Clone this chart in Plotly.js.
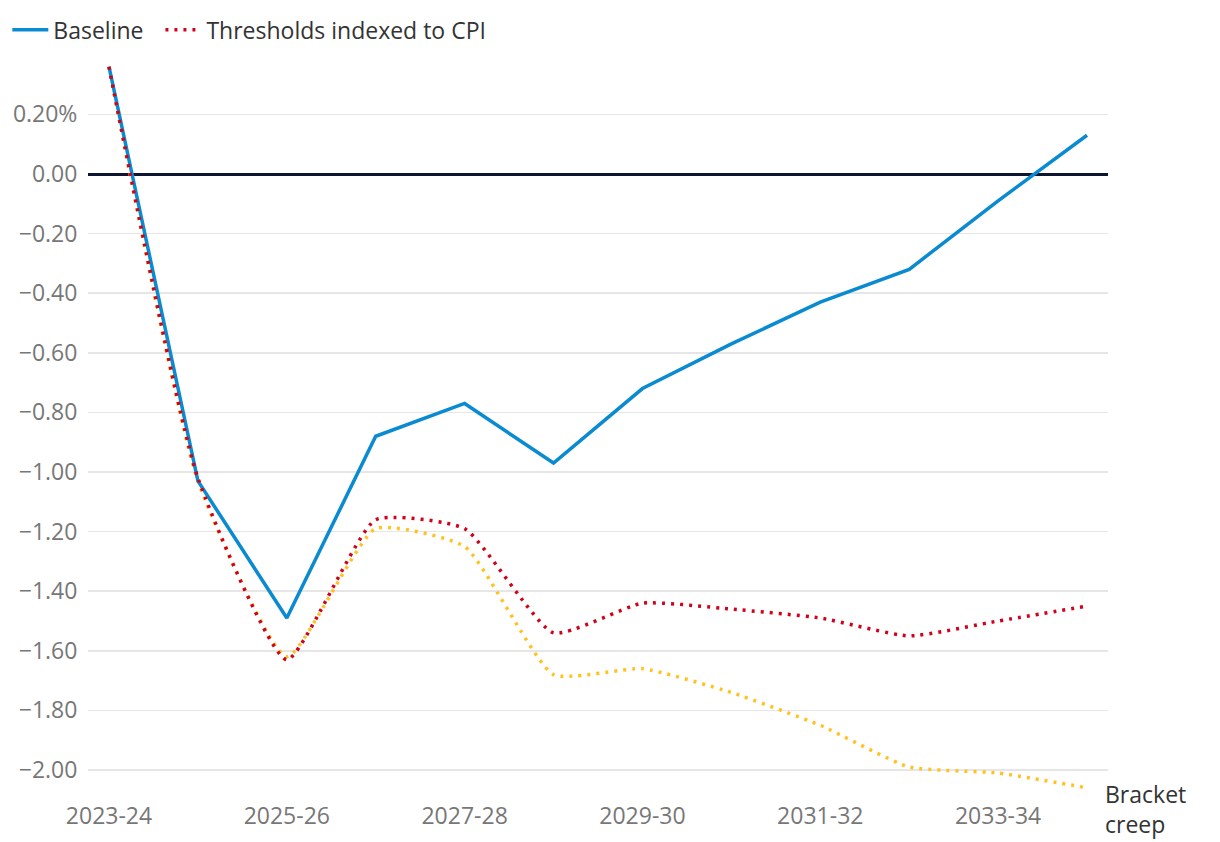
<!DOCTYPE html>
<html>
<head>
<meta charset="utf-8">
<script src="https://cdn.plot.ly/plotly-3.0.1.min.js"></script>
<style>
  html, body { margin: 0; padding: 0; background: #fff; }
  #grafico { width: 1220px; height: 842px; }
</style>
</head>
<body>
<div id="grafico"></div>
<script>
// ---------------------------------------------------------------------
// DATOS
// ---------------------------------------------------------------------
const anios = ["2023-24", "2024-25", "2025-26", "2026-27", "2027-28", "2028-29",
               "2029-30", "2030-31", "2031-32", "2032-33", "2033-34", "2034-35"];

const baseline = [0.36, -1.03, -1.49, -0.88, -0.77, -0.97, -0.72, -0.57, -0.43, -0.32, -0.09, 0.13];
const indexadoIPC = [0.36, -1.02, -1.63, -1.16, -1.19, -1.54, -1.44, -1.46, -1.49, -1.55, -1.50, -1.45];
const bracketCreep = [0.36, -1.03, -1.62, -1.19, -1.25, -1.68, -1.66, -1.74, -1.85, -1.99, -2.01, -2.06];

const ticksX = ["2023-24", "2025-26", "2027-28", "2029-30", "2031-32", "2033-34"];
const ticksY = [0.2, 0, -0.2, -0.4, -0.6, -0.8, -1.0, -1.2, -1.4, -1.6, -1.8, -2.0];
const etiquetasY = ["0.20%", "0.00", "\u22120.20", "\u22120.40", "\u22120.60", "\u22120.80",
                    "\u22121.00", "\u22121.20", "\u22121.40", "\u22121.60", "\u22121.80", "\u22122.00"];

// ---------------------------------------------------------------------
// TRAZAS
// ---------------------------------------------------------------------
const FUENTE = "'Open Sans', 'Noto Sans', sans-serif";

const trazaCreep = {
  x: anios, y: bracketCreep,
  type: "scatter", mode: "lines",
  name: "Bracket creep",
  showlegend: false,
  line: { color: "#FFC21F", width: 3.5, dash: "3px,6px", shape: "spline", smoothing: 0.5 },
};

const trazaBaseline = {
  x: anios, y: baseline,
  type: "scatter", mode: "lines",
  name: "Baseline\u00a0\u00a0",
  line: { color: "#0A8BD1", width: 3.5 },
};

const trazaIPC = {
  x: anios, y: indexadoIPC,
  type: "scatter", mode: "lines",
  name: "Thresholds indexed to CPI",
  line: { color: "#D0021B", width: 3.5, dash: "3px,6px", shape: "spline", smoothing: 0.5 },
};

const layout = {
  width: 1220, height: 842,
  paper_bgcolor: "#fff", plot_bgcolor: "#fff",
  font: { family: FUENTE, size: 23, color: "#777" },
  margin: { l: 88, r: 112, t: 60, b: 42 },
  showlegend: true,
  legend: {
    orientation: "h",
    xref: "container", yref: "container",
    x: 0.006, y: 0.99, xanchor: "left", yanchor: "top",
    font: { family: FUENTE, size: 23, color: "#333" },
    itemwidth: 36,
    bgcolor: "rgba(0,0,0,0)",
  },
  xaxis: {
    type: "category",
    range: [-0.236, 11.236],
    tickvals: ticksX,
    ticktext: ticksX,
    showgrid: false,
    zeroline: false,
    showline: false,
    ticks: "",
    tickfont: { family: FUENTE, size: 23, color: "#777" },
  },
  yaxis: {
    range: [-2.1007, 0.3826],
    tickvals: ticksY,
    ticktext: etiquetasY,
    showgrid: true, gridcolor: "#E6E6E6", gridwidth: 1.5,
    zeroline: true, zerolinecolor: "#0C1633", zerolinewidth: 3,
    showline: false,
    ticks: "outside", ticklen: 5, tickcolor: "rgba(0,0,0,0)",
    tickfont: { family: FUENTE, size: 23, color: "#777" },
  },
  annotations: [{
    x: anios[anios.length - 1], y: bracketCreep[bracketCreep.length - 1],
    xref: "x", yref: "y",
    text: "Bracket<br>creep",
    showarrow: false,
    xanchor: "left", yanchor: "top", align: "left",
    xshift: 16, yshift: 12,
    font: { family: FUENTE, size: 23, color: "#333" },
  }],
};

Plotly.newPlot("grafico", [trazaCreep, trazaBaseline, trazaIPC], layout, { displayModeBar: false, staticPlot: true });
</script>
</body>
</html>
